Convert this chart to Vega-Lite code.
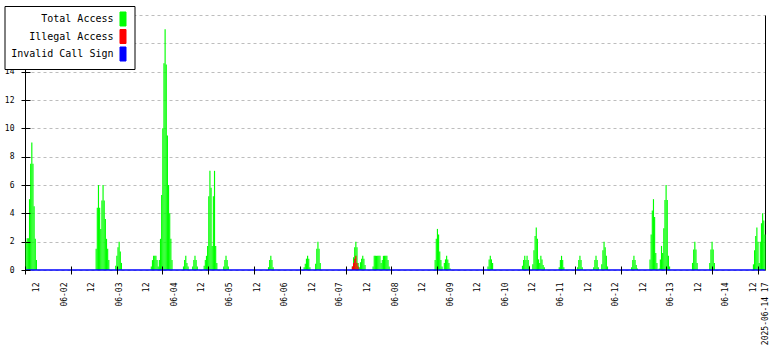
{
  "$schema": "https://vega.github.io/schema/vega-lite/v6.json",
  "width": 740,
  "height": 255,
  "autosize": {"type": "none"},
  "padding": {"left": 25, "top": 15, "right": 15, "bottom": 80},
  "background": "white",
  "config": {"view": {"stroke": null}},
  "datasets": {
    "access": [
      {"t":"2025-06-01T07:00","total":2},
      {"t":"2025-06-01T07:30","total":2.25},
      {"t":"2025-06-01T08:00","total":2.25},
      {"t":"2025-06-01T08:30","total":5},
      {"t":"2025-06-01T09:00","total":7.5},
      {"t":"2025-06-01T09:30","total":9},
      {"t":"2025-06-01T10:00","total":7.5},
      {"t":"2025-06-01T10:30","total":4.5},
      {"t":"2025-06-01T11:00","total":2.2},
      {"t":"2025-06-01T11:30","total":0.7},
      {"t":"2025-06-02T13:30","total":1.5},
      {"t":"2025-06-02T14:00","total":4.4},
      {"t":"2025-06-02T14:30","total":6},
      {"t":"2025-06-02T15:00","total":4.4},
      {"t":"2025-06-02T15:30","total":2.9},
      {"t":"2025-06-02T16:00","total":4.9},
      {"t":"2025-06-02T16:30","total":6},
      {"t":"2025-06-02T17:00","total":4.9},
      {"t":"2025-06-02T17:30","total":3.6},
      {"t":"2025-06-02T18:00","total":2.2},
      {"t":"2025-06-02T18:30","total":1.5},
      {"t":"2025-06-02T19:00","total":0.7},
      {"t":"2025-06-02T22:00","total":0.3},
      {"t":"2025-06-02T22:30","total":1},
      {"t":"2025-06-02T23:00","total":1.6},
      {"t":"2025-06-02T23:30","total":2},
      {"t":"2025-06-03T00:00","total":1.3},
      {"t":"2025-06-03T00:30","total":0.5},
      {"t":"2025-06-03T13:30","total":0.25},
      {"t":"2025-06-03T14:00","total":0.7},
      {"t":"2025-06-03T14:30","total":1},
      {"t":"2025-06-03T15:00","total":1},
      {"t":"2025-06-03T15:30","total":1},
      {"t":"2025-06-03T16:00","total":0.7},
      {"t":"2025-06-03T16:30","total":0.25},
      {"t":"2025-06-03T17:00","total":0.7},
      {"t":"2025-06-03T17:30","total":2.2},
      {"t":"2025-06-03T18:00","total":5.3},
      {"t":"2025-06-03T18:30","total":10},
      {"t":"2025-06-03T19:00","total":14.6},
      {"t":"2025-06-03T19:30","total":17},
      {"t":"2025-06-03T20:00","total":14.5},
      {"t":"2025-06-03T20:30","total":9.5},
      {"t":"2025-06-03T21:00","total":6},
      {"t":"2025-06-03T21:30","total":4},
      {"t":"2025-06-03T22:00","total":2.2},
      {"t":"2025-06-03T22:30","total":0.7},
      {"t":"2025-06-04T03:30","total":0.25},
      {"t":"2025-06-04T04:00","total":0.7},
      {"t":"2025-06-04T04:30","total":1},
      {"t":"2025-06-04T05:00","total":0.5},
      {"t":"2025-06-04T05:30","total":0.25},
      {"t":"2025-06-04T07:30","total":0.25},
      {"t":"2025-06-04T08:00","total":0.7},
      {"t":"2025-06-04T08:30","total":1},
      {"t":"2025-06-04T09:00","total":0.7},
      {"t":"2025-06-04T09:30","total":0.25},
      {"t":"2025-06-04T12:30","total":0.3},
      {"t":"2025-06-04T13:00","total":0.7},
      {"t":"2025-06-04T13:30","total":1},
      {"t":"2025-06-04T14:00","total":1.7},
      {"t":"2025-06-04T14:30","total":5.2},
      {"t":"2025-06-04T15:00","total":7},
      {"t":"2025-06-04T15:30","total":5.8},
      {"t":"2025-06-04T16:00","total":1.7},
      {"t":"2025-06-04T16:30","total":5.2},
      {"t":"2025-06-04T17:00","total":7},
      {"t":"2025-06-04T17:30","total":1.7},
      {"t":"2025-06-04T18:00","total":0.5},
      {"t":"2025-06-04T21:00","total":0.25},
      {"t":"2025-06-04T21:30","total":0.7},
      {"t":"2025-06-04T22:00","total":1},
      {"t":"2025-06-04T22:30","total":0.7},
      {"t":"2025-06-04T23:00","total":0.25},
      {"t":"2025-06-05T16:30","total":0.2},
      {"t":"2025-06-05T17:00","total":0.7},
      {"t":"2025-06-05T17:30","total":1},
      {"t":"2025-06-05T18:00","total":0.7},
      {"t":"2025-06-05T18:30","total":0.2},
      {"t":"2025-06-06T08:00","total":0.2},
      {"t":"2025-06-06T08:30","total":0.45},
      {"t":"2025-06-06T09:00","total":0.8},
      {"t":"2025-06-06T09:30","total":1},
      {"t":"2025-06-06T10:00","total":0.8},
      {"t":"2025-06-06T10:30","total":0.2},
      {"t":"2025-06-06T13:00","total":0.45},
      {"t":"2025-06-06T13:30","total":1.5},
      {"t":"2025-06-06T14:00","total":2},
      {"t":"2025-06-06T14:30","total":1.5},
      {"t":"2025-06-06T15:00","total":0.5},
      {"t":"2025-06-07T05:00","total":0.25,"illegal":0.25},
      {"t":"2025-06-07T05:30","total":0.9,"illegal":0.5},
      {"t":"2025-06-07T06:00","total":1.6,"illegal":0.8},
      {"t":"2025-06-07T06:30","total":2,"illegal":1},
      {"t":"2025-06-07T07:00","total":1.6,"illegal":0.5},
      {"t":"2025-06-07T07:30","total":0.5,"illegal":0.25},
      {"t":"2025-06-07T08:00","total":0.2},
      {"t":"2025-06-07T08:30","total":0.55},
      {"t":"2025-06-07T09:00","total":0.8},
      {"t":"2025-06-07T09:30","total":1},
      {"t":"2025-06-07T10:00","total":0.8},
      {"t":"2025-06-07T10:30","total":0.35},
      {"t":"2025-06-07T14:00","total":0.25},
      {"t":"2025-06-07T14:30","total":1},
      {"t":"2025-06-07T15:00","total":1},
      {"t":"2025-06-07T15:30","total":1},
      {"t":"2025-06-07T16:00","total":1},
      {"t":"2025-06-07T16:30","total":1},
      {"t":"2025-06-07T17:00","total":1},
      {"t":"2025-06-07T17:30","total":0.5},
      {"t":"2025-06-07T18:00","total":0.7},
      {"t":"2025-06-07T18:30","total":1},
      {"t":"2025-06-07T19:00","total":1},
      {"t":"2025-06-07T19:30","total":1},
      {"t":"2025-06-07T20:00","total":1},
      {"t":"2025-06-07T20:30","total":0.7},
      {"t":"2025-06-07T21:00","total":0.25},
      {"t":"2025-06-08T17:00","total":0.7},
      {"t":"2025-06-08T17:30","total":2.2},
      {"t":"2025-06-08T18:00","total":2.9},
      {"t":"2025-06-08T18:30","total":2.5},
      {"t":"2025-06-08T19:00","total":1.3},
      {"t":"2025-06-08T19:30","total":0.7},
      {"t":"2025-06-08T20:00","total":0.25},
      {"t":"2025-06-08T21:00","total":0.5},
      {"t":"2025-06-08T21:30","total":0.75},
      {"t":"2025-06-08T22:00","total":1},
      {"t":"2025-06-08T22:30","total":0.75},
      {"t":"2025-06-08T23:00","total":0.5},
      {"t":"2025-06-08T23:30","total":0.1},
      {"t":"2025-06-09T16:00","total":0.25},
      {"t":"2025-06-09T16:30","total":0.75},
      {"t":"2025-06-09T17:00","total":1},
      {"t":"2025-06-09T17:30","total":0.75},
      {"t":"2025-06-09T18:00","total":0.5},
      {"t":"2025-06-10T07:00","total":0.3},
      {"t":"2025-06-10T07:30","total":0.7},
      {"t":"2025-06-10T08:00","total":1},
      {"t":"2025-06-10T08:30","total":0.7},
      {"t":"2025-06-10T09:00","total":1},
      {"t":"2025-06-10T09:30","total":0.7},
      {"t":"2025-06-10T10:00","total":0.3},
      {"t":"2025-06-10T11:30","total":0.4},
      {"t":"2025-06-10T12:00","total":1.4},
      {"t":"2025-06-10T12:30","total":2.4},
      {"t":"2025-06-10T13:00","total":3},
      {"t":"2025-06-10T13:30","total":2.2},
      {"t":"2025-06-10T14:00","total":0.75},
      {"t":"2025-06-10T14:30","total":0.5},
      {"t":"2025-06-10T15:00","total":1},
      {"t":"2025-06-10T15:30","total":0.75},
      {"t":"2025-06-10T16:00","total":0.35},
      {"t":"2025-06-10T16:30","total":0.2},
      {"t":"2025-06-10T23:00","total":0.2},
      {"t":"2025-06-10T23:30","total":0.7},
      {"t":"2025-06-11T00:00","total":1},
      {"t":"2025-06-11T00:30","total":0.7},
      {"t":"2025-06-11T01:00","total":0.2},
      {"t":"2025-06-11T07:00","total":0.2},
      {"t":"2025-06-11T07:30","total":0.7},
      {"t":"2025-06-11T08:00","total":1},
      {"t":"2025-06-11T08:30","total":0.7},
      {"t":"2025-06-11T09:00","total":0.2},
      {"t":"2025-06-11T14:00","total":0.2},
      {"t":"2025-06-11T14:30","total":0.7},
      {"t":"2025-06-11T15:00","total":1},
      {"t":"2025-06-11T15:30","total":0.7},
      {"t":"2025-06-11T16:00","total":0.2},
      {"t":"2025-06-11T17:30","total":0.4},
      {"t":"2025-06-11T18:00","total":1.4},
      {"t":"2025-06-11T18:30","total":2},
      {"t":"2025-06-11T19:00","total":1.6},
      {"t":"2025-06-11T19:30","total":1},
      {"t":"2025-06-11T20:00","total":0.25},
      {"t":"2025-06-12T06:30","total":0.2},
      {"t":"2025-06-12T07:00","total":0.7},
      {"t":"2025-06-12T07:30","total":1},
      {"t":"2025-06-12T08:00","total":0.7},
      {"t":"2025-06-12T08:30","total":0.35},
      {"t":"2025-06-12T09:00","total":0.1},
      {"t":"2025-06-12T14:30","total":0.75},
      {"t":"2025-06-12T15:00","total":2.5},
      {"t":"2025-06-12T15:30","total":4.2},
      {"t":"2025-06-12T16:00","total":5},
      {"t":"2025-06-12T16:30","total":3.75},
      {"t":"2025-06-12T17:00","total":1.2},
      {"t":"2025-06-12T17:30","total":0.5},
      {"t":"2025-06-12T18:30","total":0.1},
      {"t":"2025-06-12T19:00","total":0.75},
      {"t":"2025-06-12T19:30","total":1.7},
      {"t":"2025-06-12T20:00","total":1.2},
      {"t":"2025-06-12T20:30","total":2.95},
      {"t":"2025-06-12T21:00","total":4.95},
      {"t":"2025-06-12T21:30","total":6},
      {"t":"2025-06-12T22:00","total":4.95},
      {"t":"2025-06-12T22:30","total":1},
      {"t":"2025-06-12T23:00","total":0.25},
      {"t":"2025-06-13T09:00","total":0.5},
      {"t":"2025-06-13T09:30","total":1.45},
      {"t":"2025-06-13T10:00","total":2},
      {"t":"2025-06-13T10:30","total":1.45},
      {"t":"2025-06-13T11:00","total":0.5},
      {"t":"2025-06-13T16:30","total":0.5},
      {"t":"2025-06-13T17:00","total":1.45},
      {"t":"2025-06-13T17:30","total":2},
      {"t":"2025-06-13T18:00","total":1.45},
      {"t":"2025-06-13T18:30","total":0.5},
      {"t":"2025-06-14T11:30","total":0.4},
      {"t":"2025-06-14T12:00","total":1.4},
      {"t":"2025-06-14T12:30","total":2.4},
      {"t":"2025-06-14T13:00","total":3},
      {"t":"2025-06-14T13:30","total":2},
      {"t":"2025-06-14T14:00","total":0.5},
      {"t":"2025-06-14T14:30","total":2},
      {"t":"2025-06-14T15:00","total":3.3},
      {"t":"2025-06-14T15:30","total":4},
      {"t":"2025-06-14T16:00","total":3.5},
      {"t":"2025-06-14T16:30","total":2.5}
    ],
    "invalid": [
      {"t":"2025-06-01T07:00","invalid":0},
      {"t":"2025-06-14T17:00","invalid":0}
    ]
  },
  "resolve": {"axis": {"x": "independent", "y": "independent"}},
  "layer": [
    {
      "data": {"name": "access"},
      "mark": {"type": "bar", "opacity": 1, "binSpacing": 0},
      "encoding": {
        "x": {
          "field": "t", "type": "temporal",
          "timeUnit": {"unit": "yearmonthdatehoursminutes", "step": 30},
          "scale": {"domain": [{"year":2025,"month":6,"date":1,"hours":7}, {"year":2025,"month":6,"date":14,"hours":17}], "nice": false},
          "axis": {
            "orient": "bottom", "title": null, "domain": false, "ticks": false, "grid": false,
            "values": [
              {"year":2025,"month":6,"date":1,"hours":12},
              {"year":2025,"month":6,"date":2,"hours":0},{"year":2025,"month":6,"date":2,"hours":12},
              {"year":2025,"month":6,"date":3,"hours":0},{"year":2025,"month":6,"date":3,"hours":12},
              {"year":2025,"month":6,"date":4,"hours":0},{"year":2025,"month":6,"date":4,"hours":12},
              {"year":2025,"month":6,"date":5,"hours":0},{"year":2025,"month":6,"date":5,"hours":12},
              {"year":2025,"month":6,"date":6,"hours":0},{"year":2025,"month":6,"date":6,"hours":12},
              {"year":2025,"month":6,"date":7,"hours":0},{"year":2025,"month":6,"date":7,"hours":12},
              {"year":2025,"month":6,"date":8,"hours":0},{"year":2025,"month":6,"date":8,"hours":12},
              {"year":2025,"month":6,"date":9,"hours":0},{"year":2025,"month":6,"date":9,"hours":12},
              {"year":2025,"month":6,"date":10,"hours":0},{"year":2025,"month":6,"date":10,"hours":12},
              {"year":2025,"month":6,"date":11,"hours":0},{"year":2025,"month":6,"date":11,"hours":12},
              {"year":2025,"month":6,"date":12,"hours":0},{"year":2025,"month":6,"date":12,"hours":12},
              {"year":2025,"month":6,"date":13,"hours":0},{"year":2025,"month":6,"date":13,"hours":12},
              {"year":2025,"month":6,"date":14,"hours":0},{"year":2025,"month":6,"date":14,"hours":12},
              {"year":2025,"month":6,"date":14,"hours":17}
            ],
            "labelExpr": "hours(datum.value) == 12 ? '12' : (hours(datum.value) == 0 ? timeFormat(datum.value, '%m-%d') : timeFormat(datum.value, '%Y-%m-%d %H'))",
            "labelAngle": 270, "labelAlign": "right", "labelBaseline": "middle",
            "labelPadding": 12, "labelOverlap": false, "labelBound": false, "labelFlush": false,
            "labelFont": "DejaVu Sans Mono", "labelFontSize": 8, "labelColor": "black"
          }
        },
        "y": {
          "field": "total", "type": "quantitative",
          "scale": {"domain": [0, 18], "nice": false, "zero": true},
          "axis": {
            "orient": "left", "title": null,
            "values": [0, 2, 4, 6, 8, 10, 12, 14, 16, 18],
            "domain": true, "domainColor": "black",
            "ticks": true, "tickSize": 4, "tickColor": "black",
            "labelPadding": 7, "labelFont": "DejaVu Sans Mono", "labelFontSize": 8, "labelColor": "black",
            "grid": true, "gridColor": "#bdbdbd", "gridDash": [3, 3], "gridWidth": 1
          }
        },
        "color": {
          "datum": "Total Access",
          "scale": {"domain": ["Total Access", "Illegal Access", "Invalid Call Sign"], "range": ["#00ff00", "#ff0000", "#0000ff"]},
          "legend": {
            "title": null, "orient": "none", "legendX": -20.5, "legendY": -9, "zindex": 3,
            "symbolType": "M-0.43,-1H0.43V1H-0.43Z", "symbolSize": 196,
            "symbolStrokeColor": "black", "symbolStrokeWidth": 1, "symbolOpacity": 1,
            "symbolOffset": 105.5,
            "labelFont": "DejaVu Sans Mono", "labelFontSize": 10, "labelColor": "black",
            "labelAlign": "right", "labelOffset": -17, "labelLimit": 200,
            "padding": 5.5, "rowPadding": -1.5,
            "fillColor": "white", "strokeColor": "black",
            "encode": {"symbols": {"update": {"fill": {"scale": "color", "field": "value"}, "stroke": {"value": "black"}, "strokeWidth": {"value": 1}, "opacity": {"value": 1}}}}
          }
        }
      }
    },
    {
      "data": {"name": "access"},
      "mark": {"type": "bar", "opacity": 1, "binSpacing": 0},
      "encoding": {
        "x": {
          "field": "t", "type": "temporal",
          "timeUnit": {"unit": "yearmonthdatehoursminutes", "step": 30},
          "axis": {
            "orient": "bottom", "title": null, "domain": false, "labels": false, "grid": false,
            "ticks": true, "tickSize": 8, "offset": -4, "tickColor": "black", "zindex": 1,
            "values": [
              {"year":2025,"month":6,"date":1,"hours":7,"minutes":0},
              {"year":2025,"month":6,"date":2,"hours":2,"minutes":56},
              {"year":2025,"month":6,"date":2,"hours":22,"minutes":52},
              {"year":2025,"month":6,"date":3,"hours":18,"minutes":48},
              {"year":2025,"month":6,"date":4,"hours":14,"minutes":44},
              {"year":2025,"month":6,"date":5,"hours":10,"minutes":40},
              {"year":2025,"month":6,"date":6,"hours":6,"minutes":36},
              {"year":2025,"month":6,"date":7,"hours":2,"minutes":32},
              {"year":2025,"month":6,"date":7,"hours":22,"minutes":28},
              {"year":2025,"month":6,"date":8,"hours":18,"minutes":24},
              {"year":2025,"month":6,"date":9,"hours":14,"minutes":20},
              {"year":2025,"month":6,"date":10,"hours":10,"minutes":16},
              {"year":2025,"month":6,"date":11,"hours":6,"minutes":12},
              {"year":2025,"month":6,"date":12,"hours":2,"minutes":8},
              {"year":2025,"month":6,"date":12,"hours":22,"minutes":4},
              {"year":2025,"month":6,"date":13,"hours":18,"minutes":0},
              {"year":2025,"month":6,"date":14,"hours":13,"minutes":56}
            ]
          }
        },
        "y": {
          "field": "illegal", "type": "quantitative",
          "axis": {
            "orient": "left", "title": null, "values": [0, 2, 4, 6, 8, 10, 12, 14, 16, 18],
            "domain": false, "labels": false, "grid": false,
            "ticks": true, "tickSize": 5, "offset": -5, "tickColor": "black", "zindex": 1
          }
        },
        "color": {"datum": "Illegal Access"}
      }
    },
    {
      "data": {"name": "invalid"},
      "mark": {"type": "line", "strokeWidth": 1.5},
      "encoding": {
        "x": {"field": "t", "type": "temporal", "axis": null},
        "y": {
          "field": "invalid", "type": "quantitative",
          "axis": {"orient": "right", "title": null, "domain": true, "domainColor": "black", "ticks": false, "labels": false, "grid": false}
        },
        "color": {"datum": "Invalid Call Sign"}
      }
    }
  ]
}
